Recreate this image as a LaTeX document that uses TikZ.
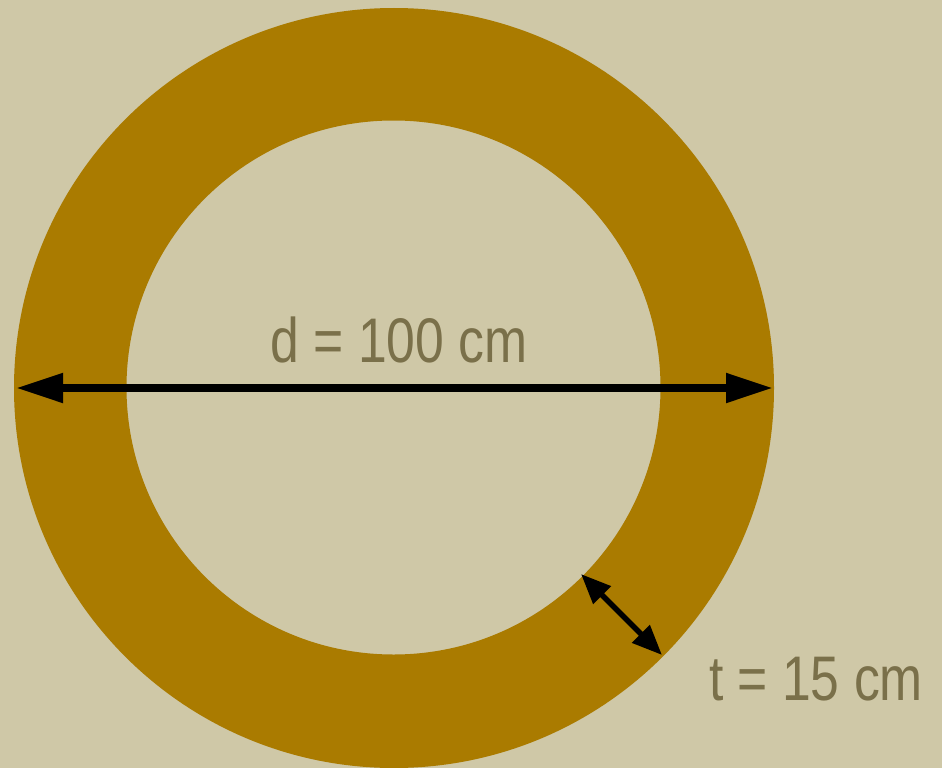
\documentclass[tikz,border=0pt]{standalone}
\usepackage{fontspec}
\usepackage{graphicx}
\setmainfont{Liberation Sans}
\usetikzlibrary{arrows.meta}
\definecolor{bgc}{RGB}{207,200,167}
\definecolor{ringc}{RGB}{170,123,0}
\definecolor{txtc}{RGB}{122,112,74}
\tikzset{
  lbl/.style={text=txtc, font=\fontsize{63}{63}\selectfont, inner sep=0pt, anchor=base},
  dimbig/.style={line width=8pt, {Triangle[length=47pt,width=28pt]}-{Triangle[length=47pt,width=28pt]}, shorten <=0pt, shorten >=0pt},
  dimsmall/.style={line width=5.5pt, {Triangle[length=30pt,width=24pt]}-{Triangle[length=30pt,width=24pt]}}
}
\begin{document}
\begin{tikzpicture}[x=1pt,y=-1pt]
\fill[bgc] (0,0) rectangle (942,768);
\useasboundingbox (0,0) rectangle (942,768);
\fill[ringc,even odd rule] (394,388) circle[radius=380] (393.5,387.5) circle[radius=267];
\coordinate (dl) at (16,388);
\coordinate (dr) at (773,388);
\coordinate (ta) at (581,574);
\coordinate (tb) at (662,655);
\draw[dimbig] (dl) -- (dr);
\draw[dimsmall] (ta) -- (tb);
\node[lbl] (d) at (399,362) {\scalebox{0.82}[1]{d = 100 cm}};
\node[lbl] (t) at (816,700) {\scalebox{0.82}[1]{t = 15 cm}};
\end{tikzpicture}
\end{document}
